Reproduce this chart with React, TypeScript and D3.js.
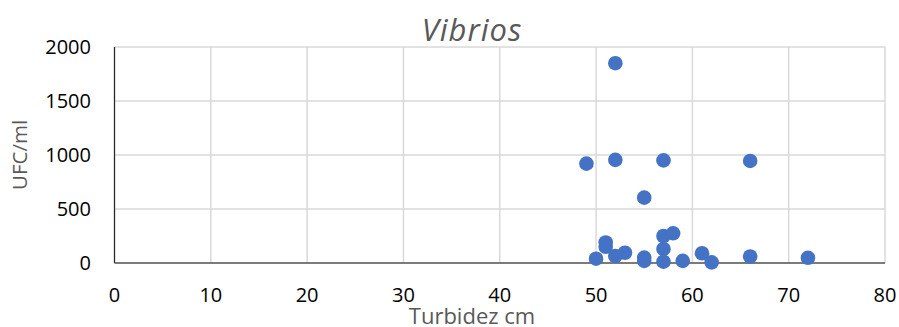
import React from "react";
import * as d3 from "d3";

// Turbidity (cm) against Vibrio counts (UFC/ml)
const turbidity = [52, 49, 52, 57, 66, 55, 51, 51, 57, 58, 57, 53, 52, 50, 55, 55, 57, 59, 61, 62, 66, 72];
const ufc = [1850, 920, 955, 950, 945, 605, 190, 150, 250, 275, 130, 95, 65, 40, 50, 20, 12, 20, 90, 6, 60, 48];
const xTicks = [0, 10, 20, 30, 40, 50, 60, 70, 80];
const yTicks = [0, 500, 1000, 1500, 2000];

const W = 899;
const H = 327;
const margin = { left: 114.5, right: 14, top: 47, bottom: 64 };
const font = "'Open Sans', sans-serif";

export default function App() {
  const x = d3.scaleLinear().domain([0, 80]).range([margin.left, W - margin.right]);
  const y = d3.scaleLinear().domain([0, 2000]).range([H - margin.bottom, margin.top]);
  const points = turbidity.map((t, i) => ({ t, v: ufc[i] }));

  return (
    <svg width={W} height={H} style={{ position: "absolute", left: 0, top: 0, background: "#fff" }}>
      {/* gridlines */}
      {xTicks.map((t) => (
        <line key={"gx" + t} x1={x(t)} x2={x(t)} y1={y(0)} y2={y(2000)} stroke="#d9d9d9" strokeWidth={1.5} />
      ))}
      {yTicks.map((t) => (
        <line key={"gy" + t} x1={x(0)} x2={x(80)} y1={y(t)} y2={y(t)} stroke="#d9d9d9" strokeWidth={1.5} />
      ))}
      {/* axes */}
      <line x1={x(0)} x2={x(0)} y1={y(0)} y2={y(2000)} stroke="#262626" strokeWidth={1.2} />
      <line x1={x(0)} x2={x(80)} y1={y(0)} y2={y(0)} stroke="#595959" strokeWidth={1.5} />
      {/* tick labels */}
      {yTicks.map((t) => (
        <text key={"ty" + t} x={91} y={y(t)} dy="0.36em" textAnchor="end" fontFamily={font} fontSize={20} fill="#000">
          {t}
        </text>
      ))}
      {xTicks.map((t) => (
        <text key={"tx" + t} x={x(t)} y={301.5} textAnchor="middle" fontFamily={font} fontSize={20} fill="#000">
          {t}
        </text>
      ))}
      {/* markers */}
      {points.map((p, i) => (
        <circle key={i} cx={x(p.t)} cy={y(p.v)} r={7.3} fill="#4472c4" />
      ))}
      {/* titles */}
      <text
        x={472}
        y={41}
        textAnchor="middle"
        fontFamily={font}
        fontStyle="italic"
        fontSize={31}
        letterSpacing={1}
        fill="#595959"
      >
        Vibrios
      </text>
      <text x={472} y={324} textAnchor="middle" fontFamily={font} fontSize={22} fill="#595959">
        Turbidez cm
      </text>
      <text
        transform={`translate(27,155) rotate(-90)`}
        textAnchor="middle"
        fontFamily={font}
        fontSize={20.5}
        fill="#595959"
      >
        UFC/ml
      </text>
    </svg>
  );
}
